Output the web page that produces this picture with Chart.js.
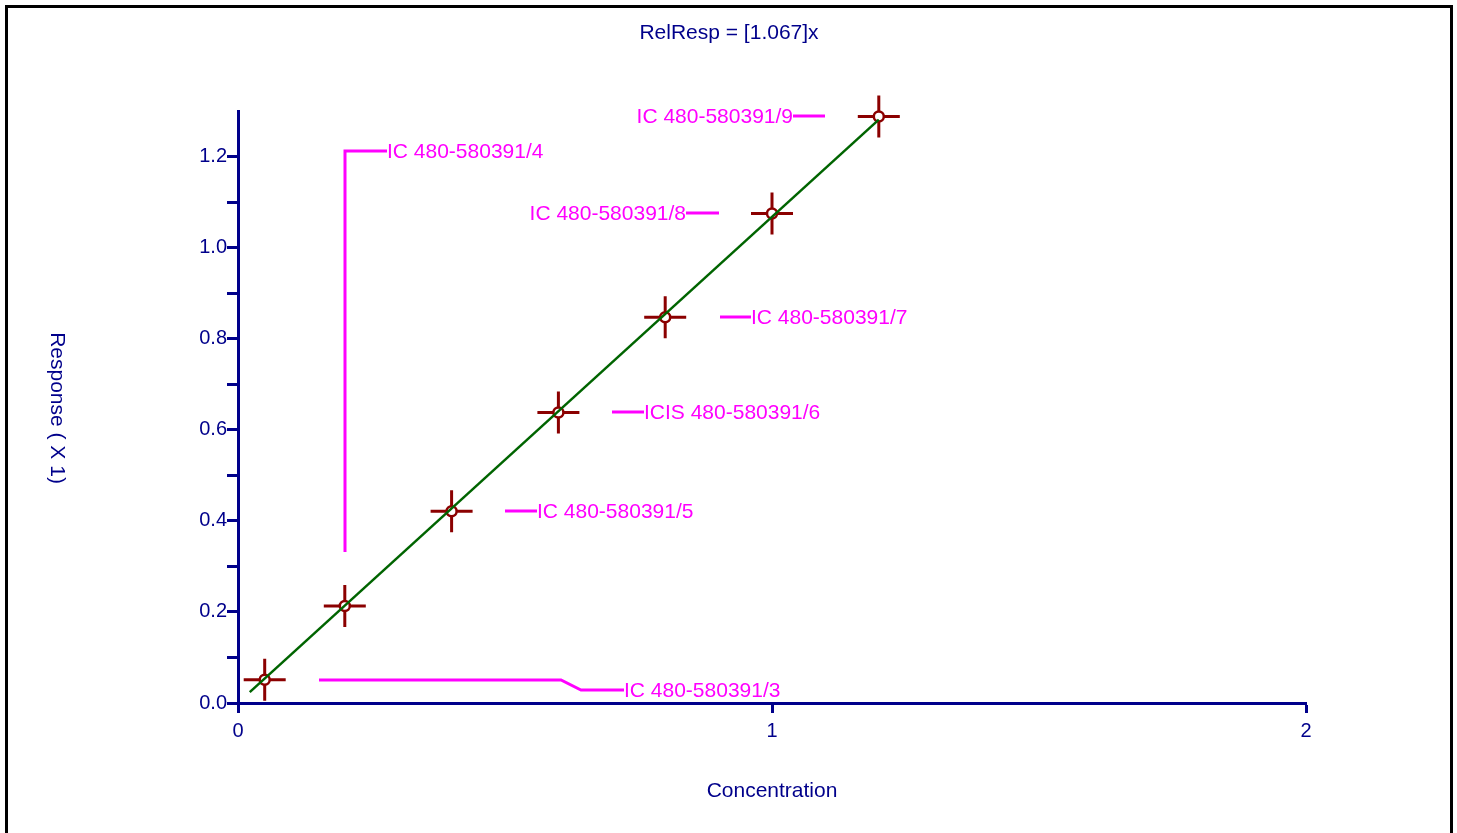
<!DOCTYPE html>
<html>
<head>
<meta charset="utf-8">
<script src="https://cdn.jsdelivr.net/npm/chart.js@4/dist/chart.umd.min.js"></script>
<style>
  html, body { margin: 0; padding: 0; background: #fff; }
  #wrap { width: 1457px; height: 833px; position: relative; }
</style>
</head>
<body>
<div id="wrap"><canvas id="calChart" width="1457" height="833"></canvas></div>
<script>
// data
const concX = [0.05, 0.2, 0.4, 0.6, 0.8, 1.0, 1.2];
const respY = [0.051, 0.213, 0.421, 0.638, 0.847, 1.075, 1.288];
const pointNames = ['IC 480-580391/3', 'IC 480-580391/4', 'IC 480-580391/5', 'ICIS 480-580391/6',
                    'IC 480-580391/7', 'IC 480-580391/8', 'IC 480-580391/9'];
const fitX = [0.022, 1.2];
const fitY = [0.024, 1.281];
const xTicks = [0, 1, 2];
const yTickLabels = ['0.0', '0.2', '0.4', '0.6', '0.8', '1.0', '1.2'];

const NAVY = '#00008B';
const MAGENTA = '#FF00FF';
const DARKRED = '#8B0000';
const GREEN = '#006400';
const FONT = 'Liberation Sans, Arial, sans-serif';

// leader line paths, pixel offsets from each point
const leaders = [
    { path: [[54, 0], [296, 0], [316, 10], [359, 10]], align: 'left' },
    { path: [[0, -54], [0, -455], [42, -455]], align: 'left' },
    { path: [[53, 0], [85, 0]], align: 'left' },
    { path: [[54, 0], [86, 0]], align: 'left' },
    { path: [[55, 0], [86, 0]], align: 'left' },
    { path: [[-53, 0], [-86, 0]], align: 'right' },
    { path: [[-54, 0], [-86, 0]], align: 'right' }
];

const pts = concX.map((x, i) => ({ x: x, y: respY[i] }));
const fitPts = fitX.map((x, i) => ({ x: x, y: fitY[i] }));

const decorPlugin = {
    id: 'decor',
    beforeDraw(chart) {
        const c = chart.ctx;
        c.save();
        c.fillStyle = '#fff';
        c.fillRect(0, 0, chart.width, chart.height);
        c.strokeStyle = '#000';
        c.lineWidth = 3;
        c.strokeRect(6.5, 6.5, 1445, 900);
        c.restore();
    },
    afterDraw(chart) {
        const c = chart.ctx;
        const xs = chart.scales.x, ys = chart.scales.y;
        c.save();
        c.font = '21px ' + FONT;
        c.textBaseline = 'middle';
        // titles
        c.fillStyle = NAVY;
        c.textAlign = 'center';
        c.fillText('RelResp = [1.067]x', 729, 33);
        c.fillText('Concentration', (xs.left + xs.right) / 2, 791);
        c.save();
        c.translate(57, 408);
        c.rotate(Math.PI / 2);
        c.fillText('Response ( X 1)', 0, 0);
        c.restore();
        // point labels with leader lines
        c.strokeStyle = MAGENTA;
        c.fillStyle = MAGENTA;
        c.lineWidth = 3;
        c.lineJoin = 'miter';
        leaders.forEach((ld, i) => {
            const px = xs.getPixelForValue(concX[i]);
            const py = ys.getPixelForValue(respY[i]);
            c.beginPath();
            ld.path.forEach((p, k) => {
                const X = Math.round(px + p[0]), Y = Math.round(py + p[1]);
                if (k === 0) c.moveTo(X, Y); else c.lineTo(X, Y);
            });
            c.stroke();
            const end = ld.path[ld.path.length - 1];
            c.textAlign = ld.align;
            c.fillText(pointNames[i], Math.round(px + end[0]), Math.round(py + end[1]) + 1);
        });
        c.restore();
    }
};

const ctx = document.getElementById('calChart').getContext('2d');

new Chart(ctx, {
    type: 'scatter',
    data: {
        datasets: [
            {
                label: 'fit',
                data: fitPts,
                showLine: true,
                borderColor: GREEN,
                borderWidth: 2.5,
                pointRadius: 0,
                order: 0,
                clip: false
            },
            {
                label: 'circles',
                data: pts,
                pointStyle: 'circle',
                pointRadius: 5,
                borderWidth: 2.5,
                borderColor: DARKRED,
                backgroundColor: '#fff',
                order: 1,
                clip: false
            },
            {
                label: 'crosses',
                data: pts,
                pointStyle: 'cross',
                pointRadius: 21,
                borderWidth: 3,
                borderColor: DARKRED,
                order: 2,
                clip: false
            }
        ]
    },
    options: {
        responsive: false,
        animation: false,
        events: [],
        layout: { padding: { left: 0, top: 111, right: 151, bottom: 0 } },
        plugins: {
            legend: { display: false },
            title: { display: false },
            tooltip: { enabled: false }
        },
        scales: {
            x: {
                type: 'linear',
                min: 0,
                max: 2,
                afterFit(s) { s.height = 130; },
                afterBuildTicks(s) { s.ticks = xTicks.map(v => ({ value: v })); },
                ticks: {
                    color: NAVY,
                    font: { family: FONT, size: 20 },
                    padding: 6,
                    maxRotation: 0,
                    callback: v => String(v)
                },
                grid: {
                    drawOnChartArea: false,
                    tickLength: 10,
                    tickWidth: 3,
                    color: NAVY
                },
                border: { display: true, color: NAVY, width: 3 }
            },
            y: {
                type: 'linear',
                min: 0,
                max: 1.3,
                afterFit(s) { s.width = 238; },
                afterBuildTicks(s) {
                    const t = [];
                    for (let i = 0; i <= 12; i++) t.push({ value: i / 10 });
                    s.ticks = t;
                },
                ticks: {
                    color: NAVY,
                    font: { family: FONT, size: 20 },
                    padding: 0,
                    callback: (v, i) => (i % 2 === 0 ? yTickLabels[i / 2] : '')
                },
                grid: {
                    drawOnChartArea: false,
                    tickLength: 11,
                    tickWidth: 3,
                    color: NAVY
                },
                border: { display: true, color: NAVY, width: 3 }
            }
        }
    },
    plugins: [decorPlugin]
});
</script>
</body>
</html>
